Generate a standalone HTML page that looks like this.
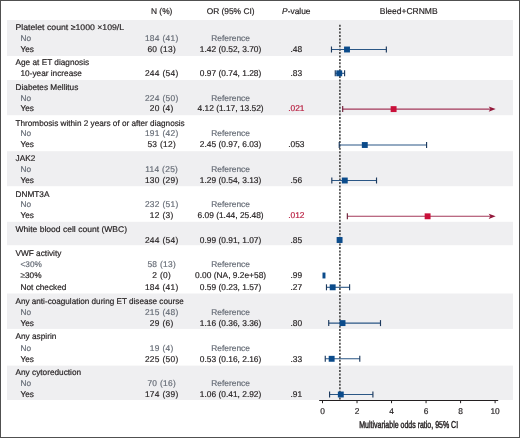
<!DOCTYPE html>
<html><head><meta charset="utf-8"><style>
html,body{margin:0;padding:0;background:#fff;}
body{width:520px;height:438px;overflow:hidden;}
svg{display:block;font-family:"Liberation Sans",sans-serif;will-change:transform;text-rendering:geometricPrecision;}
</style></head><body>
<svg width="520" height="438" viewBox="0 0 520 438">
<rect x="0" y="0" width="520" height="438" fill="#fff"/>

<rect x="7" y="20" width="506" height="36.0" fill="#efeff1"/>
<rect x="7" y="80" width="506" height="35.2" fill="#efeff1"/>
<rect x="7" y="151.2" width="506" height="35.0" fill="#efeff1"/>
<rect x="7" y="221.8" width="506" height="23.4" fill="#efeff1"/>
<rect x="7" y="293.5" width="506" height="35.4" fill="#efeff1"/>
<rect x="7" y="365.6" width="506" height="34.4" fill="#efeff1"/>
<g font-size="8.4" fill="#231f20" stroke="#231f20" stroke-width="0.18" text-anchor="middle">
<text x="161.7" y="14.4">N (%)</text>
<text x="230.6" y="14.4">OR (95% CI)</text>
<text x="296.3" y="14.4"><tspan font-style="italic">P</tspan>-value</text>
<text x="408.7" y="14.4" font-size="8.5">Bleed+CRNMB</text>
</g>
<text stroke="#231f20" stroke-width="0.18" x="15.5" y="30.0" font-size="8.25" fill="#231f20" textLength="108.6" lengthAdjust="spacingAndGlyphs">Platelet count ≥1000 ×109/L</text>
<text stroke="#666c76" stroke-width="0.18" x="20.5" y="40.8" font-size="8.25" fill="#666c76">No</text>
<text stroke="#666c76" stroke-width="0.18" x="161.7" y="40.8" font-size="8.4" fill="#666c76" text-anchor="middle" letter-spacing="0.3">184 (41)</text>
<text stroke="#666c76" stroke-width="0.18" x="230.6" y="40.8" font-size="8.4" fill="#666c76" text-anchor="middle">Reference</text>
<text stroke="#231f20" stroke-width="0.18" x="20.5" y="51.8" font-size="8.25" fill="#231f20">Yes</text>
<text stroke="#231f20" stroke-width="0.18" x="161.7" y="51.8" font-size="8.4" fill="#231f20" text-anchor="middle" letter-spacing="0.3">60 (13)</text>
<text stroke="#231f20" stroke-width="0.18" x="230.6" y="51.8" font-size="8.4" fill="#231f20" text-anchor="middle">1.42 (0.52, 3.70)</text>
<text stroke="#231f20" stroke-width="0.18" x="296.3" y="51.8" font-size="8.4" fill="#231f20" text-anchor="middle">.48</text>
<text stroke="#231f20" stroke-width="0.18" x="15.5" y="64.6" font-size="8.25" fill="#231f20">Age at ET diagnosis</text>
<text stroke="#231f20" stroke-width="0.18" x="20.5" y="75.8" font-size="8.25" fill="#231f20">10-year increase</text>
<text stroke="#231f20" stroke-width="0.18" x="161.7" y="75.8" font-size="8.4" fill="#231f20" text-anchor="middle" letter-spacing="0.3">244 (54)</text>
<text stroke="#231f20" stroke-width="0.18" x="230.6" y="75.8" font-size="8.4" fill="#231f20" text-anchor="middle">0.97 (0.74, 1.28)</text>
<text stroke="#231f20" stroke-width="0.18" x="296.3" y="75.8" font-size="8.4" fill="#231f20" text-anchor="middle">.83</text>
<text stroke="#231f20" stroke-width="0.18" x="15.5" y="89.7" font-size="8.25" fill="#231f20">Diabetes Mellitus</text>
<text stroke="#666c76" stroke-width="0.18" x="20.5" y="100.6" font-size="8.25" fill="#666c76">No</text>
<text stroke="#666c76" stroke-width="0.18" x="161.7" y="100.6" font-size="8.4" fill="#666c76" text-anchor="middle" letter-spacing="0.3">224 (50)</text>
<text stroke="#666c76" stroke-width="0.18" x="230.6" y="100.6" font-size="8.4" fill="#666c76" text-anchor="middle">Reference</text>
<text stroke="#231f20" stroke-width="0.18" x="20.5" y="111.3" font-size="8.25" fill="#231f20">Yes</text>
<text stroke="#231f20" stroke-width="0.18" x="161.7" y="111.3" font-size="8.4" fill="#231f20" text-anchor="middle" letter-spacing="0.3">20 (4)</text>
<text stroke="#231f20" stroke-width="0.18" x="230.6" y="111.3" font-size="8.4" fill="#231f20" text-anchor="middle">4.12 (1.17, 13.52)</text>
<text stroke="#b81b3e" stroke-width="0.18" x="296.3" y="111.3" font-size="8.4" fill="#b81b3e" text-anchor="middle">.021</text>
<text stroke="#231f20" stroke-width="0.18" x="15.5" y="125.5" font-size="8.25" fill="#231f20" textLength="169.2" lengthAdjust="spacingAndGlyphs">Thrombosis within 2 years of or after diagnosis</text>
<text stroke="#666c76" stroke-width="0.18" x="20.5" y="136.2" font-size="8.25" fill="#666c76">No</text>
<text stroke="#666c76" stroke-width="0.18" x="161.7" y="136.2" font-size="8.4" fill="#666c76" text-anchor="middle" letter-spacing="0.3">191 (42)</text>
<text stroke="#666c76" stroke-width="0.18" x="230.6" y="136.2" font-size="8.4" fill="#666c76" text-anchor="middle">Reference</text>
<text stroke="#231f20" stroke-width="0.18" x="20.5" y="147.2" font-size="8.25" fill="#231f20">Yes</text>
<text stroke="#231f20" stroke-width="0.18" x="161.7" y="147.2" font-size="8.4" fill="#231f20" text-anchor="middle" letter-spacing="0.3">53 (12)</text>
<text stroke="#231f20" stroke-width="0.18" x="230.6" y="147.2" font-size="8.4" fill="#231f20" text-anchor="middle">2.45 (0.97, 6.03)</text>
<text stroke="#231f20" stroke-width="0.18" x="296.3" y="147.2" font-size="8.4" fill="#231f20" text-anchor="middle">.053</text>
<text stroke="#231f20" stroke-width="0.18" x="15.5" y="161.3" font-size="8.25" fill="#231f20">JAK2</text>
<text stroke="#666c76" stroke-width="0.18" x="20.5" y="171.7" font-size="8.25" fill="#666c76">No</text>
<text stroke="#666c76" stroke-width="0.18" x="161.7" y="171.7" font-size="8.4" fill="#666c76" text-anchor="middle" letter-spacing="0.3">114 (25)</text>
<text stroke="#666c76" stroke-width="0.18" x="230.6" y="171.7" font-size="8.4" fill="#666c76" text-anchor="middle">Reference</text>
<text stroke="#231f20" stroke-width="0.18" x="20.5" y="182.6" font-size="8.25" fill="#231f20">Yes</text>
<text stroke="#231f20" stroke-width="0.18" x="161.7" y="182.6" font-size="8.4" fill="#231f20" text-anchor="middle" letter-spacing="0.3">130 (29)</text>
<text stroke="#231f20" stroke-width="0.18" x="230.6" y="182.6" font-size="8.4" fill="#231f20" text-anchor="middle">1.29 (0.54, 3.13)</text>
<text stroke="#231f20" stroke-width="0.18" x="296.3" y="182.6" font-size="8.4" fill="#231f20" text-anchor="middle">.56</text>
<text stroke="#231f20" stroke-width="0.18" x="15.5" y="196.9" font-size="8.25" fill="#231f20">DNMT3A</text>
<text stroke="#666c76" stroke-width="0.18" x="20.5" y="207.4" font-size="8.25" fill="#666c76">No</text>
<text stroke="#666c76" stroke-width="0.18" x="161.7" y="207.4" font-size="8.4" fill="#666c76" text-anchor="middle" letter-spacing="0.3">232 (51)</text>
<text stroke="#666c76" stroke-width="0.18" x="230.6" y="207.4" font-size="8.4" fill="#666c76" text-anchor="middle">Reference</text>
<text stroke="#231f20" stroke-width="0.18" x="20.5" y="218.2" font-size="8.25" fill="#231f20">Yes</text>
<text stroke="#231f20" stroke-width="0.18" x="161.7" y="218.2" font-size="8.4" fill="#231f20" text-anchor="middle" letter-spacing="0.3">12 (3)</text>
<text stroke="#231f20" stroke-width="0.18" x="230.6" y="218.2" font-size="8.4" fill="#231f20" text-anchor="middle">6.09 (1.44, 25.48)</text>
<text stroke="#b81b3e" stroke-width="0.18" x="296.3" y="218.2" font-size="8.4" fill="#b81b3e" text-anchor="middle">.012</text>
<text stroke="#231f20" stroke-width="0.18" x="15.5" y="231.6" font-size="8.25" fill="#231f20" textLength="111.5" lengthAdjust="spacingAndGlyphs">White blood cell count (WBC)</text>
<text stroke="#231f20" stroke-width="0.18" x="161.7" y="243.1" font-size="8.4" fill="#231f20" text-anchor="middle" letter-spacing="0.3">244 (54)</text>
<text stroke="#231f20" stroke-width="0.18" x="230.6" y="243.1" font-size="8.4" fill="#231f20" text-anchor="middle">0.99 (0.91, 1.07)</text>
<text stroke="#231f20" stroke-width="0.18" x="296.3" y="243.1" font-size="8.4" fill="#231f20" text-anchor="middle">.85</text>
<text stroke="#231f20" stroke-width="0.18" x="15.5" y="255.7" font-size="8.25" fill="#231f20">VWF activity</text>
<text stroke="#666c76" stroke-width="0.18" x="20.5" y="266.8" font-size="8.25" fill="#666c76">&lt;30%</text>
<text stroke="#666c76" stroke-width="0.18" x="161.7" y="266.8" font-size="8.4" fill="#666c76" text-anchor="middle" letter-spacing="0.3">58 (13)</text>
<text stroke="#666c76" stroke-width="0.18" x="230.6" y="266.8" font-size="8.4" fill="#666c76" text-anchor="middle">Reference</text>
<text stroke="#231f20" stroke-width="0.18" x="20.5" y="278.0" font-size="8.25" fill="#231f20"><tspan fill="#8a8a8a">≥</tspan>30%</text>
<text stroke="#231f20" stroke-width="0.18" x="161.7" y="278.0" font-size="8.4" fill="#231f20" text-anchor="middle" letter-spacing="0.3">2 (0)</text>
<text stroke="#231f20" stroke-width="0.18" x="230.6" y="278.0" font-size="8.4" fill="#231f20" text-anchor="middle">0.00 (NA, 9.2e+58)</text>
<text stroke="#231f20" stroke-width="0.18" x="296.3" y="278.0" font-size="8.4" fill="#231f20" text-anchor="middle">.99</text>
<text stroke="#231f20" stroke-width="0.18" x="20.5" y="289.8" font-size="8.25" fill="#231f20">Not checked</text>
<text stroke="#231f20" stroke-width="0.18" x="161.7" y="289.8" font-size="8.4" fill="#231f20" text-anchor="middle" letter-spacing="0.3">184 (41)</text>
<text stroke="#231f20" stroke-width="0.18" x="230.6" y="289.8" font-size="8.4" fill="#231f20" text-anchor="middle">0.59 (0.23, 1.57)</text>
<text stroke="#231f20" stroke-width="0.18" x="296.3" y="289.8" font-size="8.4" fill="#231f20" text-anchor="middle">.27</text>
<text stroke="#231f20" stroke-width="0.18" x="15.5" y="303.6" font-size="8.25" fill="#231f20" textLength="168.3" lengthAdjust="spacingAndGlyphs">Any anti-coagulation during ET disease course</text>
<text stroke="#666c76" stroke-width="0.18" x="20.5" y="314.7" font-size="8.25" fill="#666c76">No</text>
<text stroke="#666c76" stroke-width="0.18" x="161.7" y="314.7" font-size="8.4" fill="#666c76" text-anchor="middle" letter-spacing="0.3">215 (48)</text>
<text stroke="#666c76" stroke-width="0.18" x="230.6" y="314.7" font-size="8.4" fill="#666c76" text-anchor="middle">Reference</text>
<text stroke="#231f20" stroke-width="0.18" x="20.5" y="325.5" font-size="8.25" fill="#231f20">Yes</text>
<text stroke="#231f20" stroke-width="0.18" x="161.7" y="325.5" font-size="8.4" fill="#231f20" text-anchor="middle" letter-spacing="0.3">29 (6)</text>
<text stroke="#231f20" stroke-width="0.18" x="230.6" y="325.5" font-size="8.4" fill="#231f20" text-anchor="middle">1.16 (0.36, 3.36)</text>
<text stroke="#231f20" stroke-width="0.18" x="296.3" y="325.5" font-size="8.4" fill="#231f20" text-anchor="middle">.80</text>
<text stroke="#231f20" stroke-width="0.18" x="15.5" y="339.4" font-size="8.25" fill="#231f20">Any aspirin</text>
<text stroke="#666c76" stroke-width="0.18" x="20.5" y="350.5" font-size="8.25" fill="#666c76">No</text>
<text stroke="#666c76" stroke-width="0.18" x="161.7" y="350.5" font-size="8.4" fill="#666c76" text-anchor="middle" letter-spacing="0.3">19 (4)</text>
<text stroke="#666c76" stroke-width="0.18" x="230.6" y="350.5" font-size="8.4" fill="#666c76" text-anchor="middle">Reference</text>
<text stroke="#231f20" stroke-width="0.18" x="20.5" y="361.5" font-size="8.25" fill="#231f20">Yes</text>
<text stroke="#231f20" stroke-width="0.18" x="161.7" y="361.5" font-size="8.4" fill="#231f20" text-anchor="middle" letter-spacing="0.3">225 (50)</text>
<text stroke="#231f20" stroke-width="0.18" x="230.6" y="361.5" font-size="8.4" fill="#231f20" text-anchor="middle">0.53 (0.16, 2.16)</text>
<text stroke="#231f20" stroke-width="0.18" x="296.3" y="361.5" font-size="8.4" fill="#231f20" text-anchor="middle">.33</text>
<text stroke="#231f20" stroke-width="0.18" x="15.5" y="374.6" font-size="8.25" fill="#231f20">Any cytoreduction</text>
<text stroke="#666c76" stroke-width="0.18" x="20.5" y="385.6" font-size="8.25" fill="#666c76">No</text>
<text stroke="#666c76" stroke-width="0.18" x="161.7" y="385.6" font-size="8.4" fill="#666c76" text-anchor="middle" letter-spacing="0.3">70 (16)</text>
<text stroke="#666c76" stroke-width="0.18" x="230.6" y="385.6" font-size="8.4" fill="#666c76" text-anchor="middle">Reference</text>
<text stroke="#231f20" stroke-width="0.18" x="20.5" y="396.5" font-size="8.25" fill="#231f20">Yes</text>
<text stroke="#231f20" stroke-width="0.18" x="161.7" y="396.5" font-size="8.4" fill="#231f20" text-anchor="middle" letter-spacing="0.3">174 (39)</text>
<text stroke="#231f20" stroke-width="0.18" x="230.6" y="396.5" font-size="8.4" fill="#231f20" text-anchor="middle">1.06 (0.41, 2.92)</text>
<text stroke="#231f20" stroke-width="0.18" x="296.3" y="396.5" font-size="8.4" fill="#231f20" text-anchor="middle">.91</text>
<line x1="339.9" y1="24.7" x2="339.9" y2="400" stroke="#444" stroke-width="1.6" stroke-dasharray="2 1.42"/>
<defs><clipPath id="pc"><rect x="322.5" y="0" width="200" height="438"/></clipPath></defs>
<line x1="331.48" y1="49.50" x2="386.36" y2="49.50" stroke="#2a5685" stroke-width="1.1"/>
<line x1="331.48" y1="46.50" x2="331.48" y2="52.50" stroke="#1d3a5e" stroke-width="1.15"/>
<line x1="386.36" y1="46.50" x2="386.36" y2="52.50" stroke="#1d3a5e" stroke-width="1.15"/>
<rect x="344.06" y="46.55" width="5.9" height="5.9" fill="#0b4b8b" clip-path="url(#pc)"/>
<line x1="335.27" y1="73.30" x2="344.59" y2="73.30" stroke="#2a5685" stroke-width="1.1"/>
<line x1="335.27" y1="70.30" x2="335.27" y2="76.30" stroke="#1d3a5e" stroke-width="1.15"/>
<line x1="344.59" y1="70.30" x2="344.59" y2="76.30" stroke="#1d3a5e" stroke-width="1.15"/>
<rect x="336.29" y="70.35" width="5.9" height="5.9" fill="#0b4b8b" clip-path="url(#pc)"/>
<line x1="342.69" y1="109.10" x2="490.10" y2="109.10" stroke="#a3385a" stroke-width="1.1"/>
<line x1="342.69" y1="106.10" x2="342.69" y2="112.10" stroke="#6e2039" stroke-width="1.15"/>
<path d="M495.70,109.10 L488.70,106.50 L490.30,109.10 L488.70,111.70 Z" fill="#921739"/>
<rect x="390.66" y="106.15" width="5.9" height="5.9" fill="#c9103a" clip-path="url(#pc)"/>
<line x1="339.24" y1="145.00" x2="426.58" y2="145.00" stroke="#2a5685" stroke-width="1.1"/>
<line x1="339.24" y1="142.00" x2="339.24" y2="148.00" stroke="#1d3a5e" stroke-width="1.15"/>
<line x1="426.58" y1="142.00" x2="426.58" y2="148.00" stroke="#1d3a5e" stroke-width="1.15"/>
<rect x="361.84" y="142.05" width="5.9" height="5.9" fill="#0b4b8b" clip-path="url(#pc)"/>
<line x1="331.82" y1="180.50" x2="376.52" y2="180.50" stroke="#2a5685" stroke-width="1.1"/>
<line x1="331.82" y1="177.50" x2="331.82" y2="183.50" stroke="#1d3a5e" stroke-width="1.15"/>
<line x1="376.52" y1="177.50" x2="376.52" y2="183.50" stroke="#1d3a5e" stroke-width="1.15"/>
<rect x="341.82" y="177.55" width="5.9" height="5.9" fill="#0b4b8b" clip-path="url(#pc)"/>
<line x1="347.35" y1="216.30" x2="490.10" y2="216.30" stroke="#a3385a" stroke-width="1.1"/>
<line x1="347.35" y1="213.30" x2="347.35" y2="219.30" stroke="#6e2039" stroke-width="1.15"/>
<path d="M495.70,216.30 L488.70,213.70 L490.30,216.30 L488.70,218.90 Z" fill="#921739"/>
<rect x="424.66" y="213.35" width="5.9" height="5.9" fill="#c9103a" clip-path="url(#pc)"/>
<line x1="338.21" y1="240.00" x2="340.97" y2="240.00" stroke="#2a5685" stroke-width="1.1"/>
<line x1="338.21" y1="237.00" x2="338.21" y2="243.00" stroke="#1d3a5e" stroke-width="1.15"/>
<line x1="340.97" y1="237.00" x2="340.97" y2="243.00" stroke="#1d3a5e" stroke-width="1.15"/>
<rect x="336.64" y="237.05" width="5.9" height="5.9" fill="#0b4b8b" clip-path="url(#pc)"/>
<rect x="319.55" y="272.55" width="5.9" height="5.9" fill="#0b4b8b" clip-path="url(#pc)"/>
<line x1="326.47" y1="287.30" x2="349.60" y2="287.30" stroke="#2a5685" stroke-width="1.1"/>
<line x1="326.47" y1="284.30" x2="326.47" y2="290.30" stroke="#1d3a5e" stroke-width="1.15"/>
<line x1="349.60" y1="284.30" x2="349.60" y2="290.30" stroke="#1d3a5e" stroke-width="1.15"/>
<rect x="329.73" y="284.35" width="5.9" height="5.9" fill="#0b4b8b" clip-path="url(#pc)"/>
<line x1="328.71" y1="323.10" x2="380.49" y2="323.10" stroke="#2a5685" stroke-width="1.1"/>
<line x1="328.71" y1="320.10" x2="328.71" y2="326.10" stroke="#1d3a5e" stroke-width="1.15"/>
<line x1="380.49" y1="320.10" x2="380.49" y2="326.10" stroke="#1d3a5e" stroke-width="1.15"/>
<rect x="339.57" y="320.15" width="5.9" height="5.9" fill="#0b4b8b" clip-path="url(#pc)"/>
<line x1="325.26" y1="358.80" x2="359.78" y2="358.80" stroke="#2a5685" stroke-width="1.1"/>
<line x1="325.26" y1="355.80" x2="325.26" y2="361.80" stroke="#1d3a5e" stroke-width="1.15"/>
<line x1="359.78" y1="355.80" x2="359.78" y2="361.80" stroke="#1d3a5e" stroke-width="1.15"/>
<rect x="328.70" y="355.85" width="5.9" height="5.9" fill="#0b4b8b" clip-path="url(#pc)"/>
<line x1="329.58" y1="394.50" x2="372.90" y2="394.50" stroke="#2a5685" stroke-width="1.1"/>
<line x1="329.58" y1="391.50" x2="329.58" y2="397.50" stroke="#1d3a5e" stroke-width="1.15"/>
<line x1="372.90" y1="391.50" x2="372.90" y2="397.50" stroke="#1d3a5e" stroke-width="1.15"/>
<rect x="337.85" y="391.55" width="5.9" height="5.9" fill="#0b4b8b" clip-path="url(#pc)"/>
<line x1="319.2" y1="400.5" x2="498.2" y2="400.5" stroke="#231f20" stroke-width="1"/>
<line x1="322.50" y1="400.5" x2="322.50" y2="403.2" stroke="#231f20" stroke-width="1"/>
<text stroke="#231f20" stroke-width="0.18" x="322.50" y="413.9" font-size="8.4" fill="#231f20" text-anchor="middle">0</text>
<line x1="357.02" y1="400.5" x2="357.02" y2="403.2" stroke="#231f20" stroke-width="1"/>
<text stroke="#231f20" stroke-width="0.18" x="357.02" y="413.9" font-size="8.4" fill="#231f20" text-anchor="middle">2</text>
<line x1="391.54" y1="400.5" x2="391.54" y2="403.2" stroke="#231f20" stroke-width="1"/>
<text stroke="#231f20" stroke-width="0.18" x="391.54" y="413.9" font-size="8.4" fill="#231f20" text-anchor="middle">4</text>
<line x1="426.06" y1="400.5" x2="426.06" y2="403.2" stroke="#231f20" stroke-width="1"/>
<text stroke="#231f20" stroke-width="0.18" x="426.06" y="413.9" font-size="8.4" fill="#231f20" text-anchor="middle">6</text>
<line x1="460.58" y1="400.5" x2="460.58" y2="403.2" stroke="#231f20" stroke-width="1"/>
<text stroke="#231f20" stroke-width="0.18" x="460.58" y="413.9" font-size="8.4" fill="#231f20" text-anchor="middle">8</text>
<line x1="495.10" y1="400.5" x2="495.10" y2="403.2" stroke="#231f20" stroke-width="1"/>
<text stroke="#231f20" stroke-width="0.18" x="495.10" y="413.9" font-size="8.4" fill="#231f20" text-anchor="middle">10</text>
<text x="0" y="0" font-size="10" fill="#231f20" stroke="#231f20" stroke-width="0.45" text-anchor="middle" transform="translate(408.7 428.4) scale(0.70 1)">Multivariable odds ratio, 95% CI</text>
<rect x="0.5" y="0.5" width="519" height="437" fill="none" stroke="#505050" stroke-width="1"/>
</svg></body></html>
